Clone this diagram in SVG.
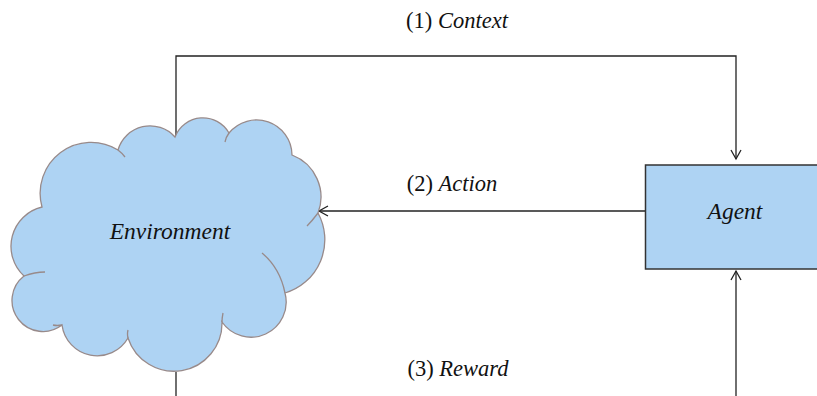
<svg xmlns="http://www.w3.org/2000/svg" width="817" height="396" viewBox="0 0 817 396">
<style>
.lbl{font-family:"Liberation Serif","DejaVu Serif",serif;font-size:22.5px;fill:#111}
.it{font-style:italic}
.node{font-family:"Liberation Serif","DejaVu Serif",serif;font-size:23.5px;font-style:italic;fill:#111}
.conn{fill:none;stroke:#222;stroke-width:1.3}
.cloud{fill:#aed3f3;stroke:#988a8a;stroke-width:1.3}
.tail{fill:none;stroke:#988a8a;stroke-width:1.3}
</style>
<defs>
<marker id="arr" viewBox="-11 -7 13 14" refX="0" refY="0" markerWidth="13" markerHeight="14" markerUnits="userSpaceOnUse" orient="auto">
<path d="M-9,-5 L0,0 L-9,5" fill="none" stroke="#222" stroke-width="1.3"/>
</marker>
</defs>
<rect width="817" height="396" fill="#ffffff"/>
<g id="connectors">
<path class="conn" d="M176,137 V56 H736 V159" marker-end="url(#arr)"/>
<path class="conn" d="M645,211 H319" marker-end="url(#arr)"/>
<path class="conn" d="M176,372 V400"/>
<path class="conn" d="M736,400 V271" marker-end="url(#arr)"/>
</g>
<g id="environment">
<path class="cloud" d="M175,137 A30,30 0 0 1 229,133 A35.5,35.5 0 0 1 292,155 A45,45 0 0 1 318,213 A55.6,55.6 0 0 1 285,293 A35.2,35.2 0 0 1 222,322 A48.2,48.2 0 0 1 128,338 A35.5,35.5 0 0 1 62,325 A30,30 0 0 1 24,276 A40.4,40.4 0 0 1 42,207 A51,51 0 0 1 118,150 A33.4,33.4 0 0 1 175,137 Z"/>
<path class="tail" d="M229,133 Q226,137 225,142 M318,213 Q312,221 307,226 M262,253 Q280,268 285,293 M222,322 Q222,318 223,313 M128,338 Q127,334 128,330 M62,325 Q57,326 53,325 M24,276 Q35,272 45,272 M118,150 Q122,153 125,157"/>
<text class="node" x="170" y="239" text-anchor="middle">Environment</text>
</g>
<g id="agent">
<rect x="645.5" y="165" width="180" height="104" fill="#aed3f3" stroke="#333" stroke-width="1.5"/>
<text class="node" x="735" y="219" text-anchor="middle">Agent</text>
</g>
<g id="labels">
<text class="lbl" x="457" y="28" text-anchor="middle">(1) <tspan class="it">Context</tspan></text>
<text class="lbl" x="452" y="191" text-anchor="middle">(2) <tspan class="it">Action</tspan></text>
<text class="lbl" x="458" y="376" text-anchor="middle">(3) <tspan class="it">Reward</tspan></text>
</g>
</svg>
